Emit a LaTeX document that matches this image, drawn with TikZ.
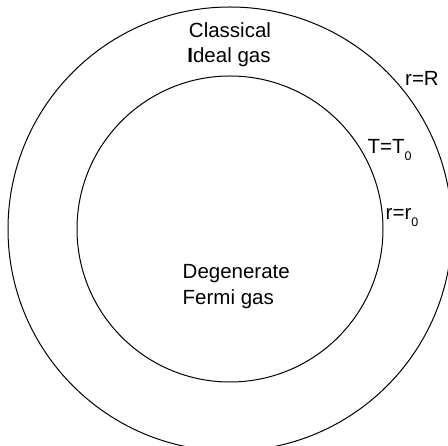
\documentclass[tikz,border=0pt]{standalone}
\usepackage{fontspec}
\setmainfont{Liberation Sans}
\usetikzlibrary{positioning}
\newcommand{\lowidx}[1]{\raisebox{-6.5pt}{\fontsize{12.5}{12.5}\selectfont #1}}

\begin{document}
\begin{tikzpicture}[
  x=1pt, y=1pt,
  zone/.style={line width=1pt},
  every node/.append style={font=\fontsize{20.5}{25}\selectfont}
]
  \useasboundingbox (0,0) rectangle (448,446);
  \clip (0,0) rectangle (448,446);

  % the two regions of the star
  \coordinate (centre) at (230,217);
  \draw[zone] (centre) circle[radius=222pt];
  \draw[zone] (centre) circle[radius=153pt];

  \node[anchor=base, inner sep=0pt] (classical) at (230,408) {Classical};
  \node[anchor=base, inner sep=0pt] (ideal) at (229,383) {{\bfseries I}deal gas};

  \node[anchor=base west, inner sep=0pt] (degenerate) at (182.5,167.5) {Degenerate};
  \node[anchor=base west, inner sep=0pt] (fermi) at (182.5,141) {Fermi gas};

  % boundary labels
  \node[anchor=base west, inner sep=0pt] (rR) at (405,360) {r=R};
  \node[anchor=base west, inner sep=0pt] (TT0) at (367.5,292) {T=T\lowidx{0}};
  \node[anchor=base west, inner sep=0pt] (rr0) at (385.5,226) {r=r\lowidx{0}};
\end{tikzpicture}
\end{document}
